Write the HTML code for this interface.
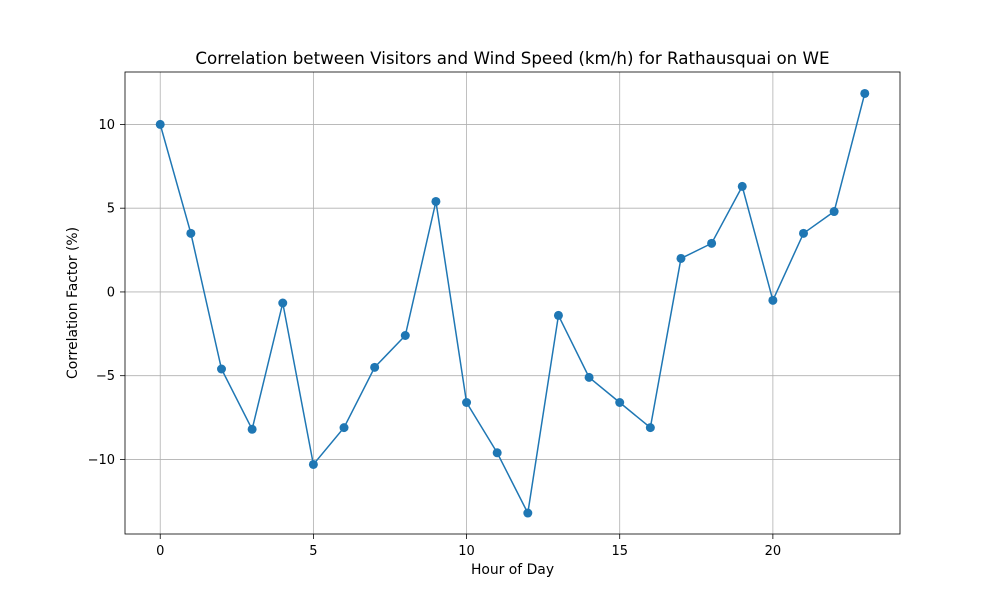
<!DOCTYPE html>
<html><head><meta charset="utf-8"><style>
body{margin:0;background:#fff;font-family:"DejaVu Sans",sans-serif;}
</style></head><body>
<svg id="chart" width="1000" height="600" font-family="DejaVu Sans, sans-serif" xmlns="http://www.w3.org/2000/svg"></svg>
<script>
const hours=[0,1,2,3,4,5,6,7,8,9,10,11,12,13,14,15,16,17,18,19,20,21,22,23];
const values=[10.0,3.5,-4.6,-8.2,-0.66,-10.3,-8.1,-4.5,-2.6,5.4,-6.6,-9.6,-13.2,-1.4,-5.1,-6.6,-8.1,2.0,2.9,6.3,-0.5,3.5,4.8,11.85];
const xTicks=[0,5,10,15,20];
const yTicks=[-10,-5,0,5,10];
const yTickLabels=["\u221210","\u22125","0","5","10"];
const L=125,R=900,T=72,B=534;
const xMin=-1.15,xMax=24.15,yMin=-14.45,yMax=13.13;
const sx=v=>L+(v-xMin)/(xMax-xMin)*(R-L);
const sy=v=>B-(v-yMin)/(yMax-yMin)*(B-T);
const svg=document.getElementById('chart');
const NS="http://www.w3.org/2000/svg";
function mk(tag,attrs,name,text){const e=document.createElementNS(NS,tag);for(const k in attrs)e.setAttribute(k,attrs[k]);


if(text!==undefined)e.textContent=text;svg.appendChild(e);return e;}
xTicks.forEach(t=>{const x=sx(t);
mk('line',{x1:x,x2:x,y1:T,y2:B,stroke:'#b0b0b0','stroke-width':0.8},'x-grid-line');
mk('line',{x1:x,x2:x,y1:B,y2:B+5,stroke:'#000','stroke-width':0.8},'x-tick');
mk('text',{x:x,y:B+21,'text-anchor':'middle','font-size':13},'x-tick-label',String(t));});
yTicks.forEach((t,i)=>{const y=sy(t);
mk('line',{x1:L,x2:R,y1:y,y2:y,stroke:'#b0b0b0','stroke-width':0.8},'y-grid-line');
mk('line',{x1:L-5,x2:L,y1:y,y2:y,stroke:'#000','stroke-width':0.8},'y-tick');
mk('text',{x:L-10,y:y+4.5,'text-anchor':'end','font-size':13},'y-tick-label',yTickLabels[i]);});
mk('rect',{x:L,y:T,width:R-L,height:B-T,fill:'none',stroke:'#000','stroke-width':0.8},'plot-frame');
mk('polyline',{points:hours.map((h,i)=>sx(h)+','+sy(values[i])).join(' '),fill:'none',stroke:'#1f77b4','stroke-width':1.5},'correlation-line');
hours.forEach((h,i)=>mk('circle',{cx:sx(h),cy:sy(values[i]),r:4.5,fill:'#1f77b4'},'data-point'));
mk('text',{x:(L+R)/2,y:64,'text-anchor':'middle','font-size':16.7},'chart-title','Correlation between Visitors and Wind Speed (km/h) for Rathausquai on WE');
mk('text',{x:(L+R)/2,y:574,'text-anchor':'middle','font-size':13.9},'x-axis-title','Hour of Day');
mk('text',{x:77,y:(T+B)/2,'text-anchor':'middle','font-size':13.9,transform:'rotate(-90 77 '+((T+B)/2)+')'},'y-axis-title','Correlation Factor (%)');
</script>
</body></html>
